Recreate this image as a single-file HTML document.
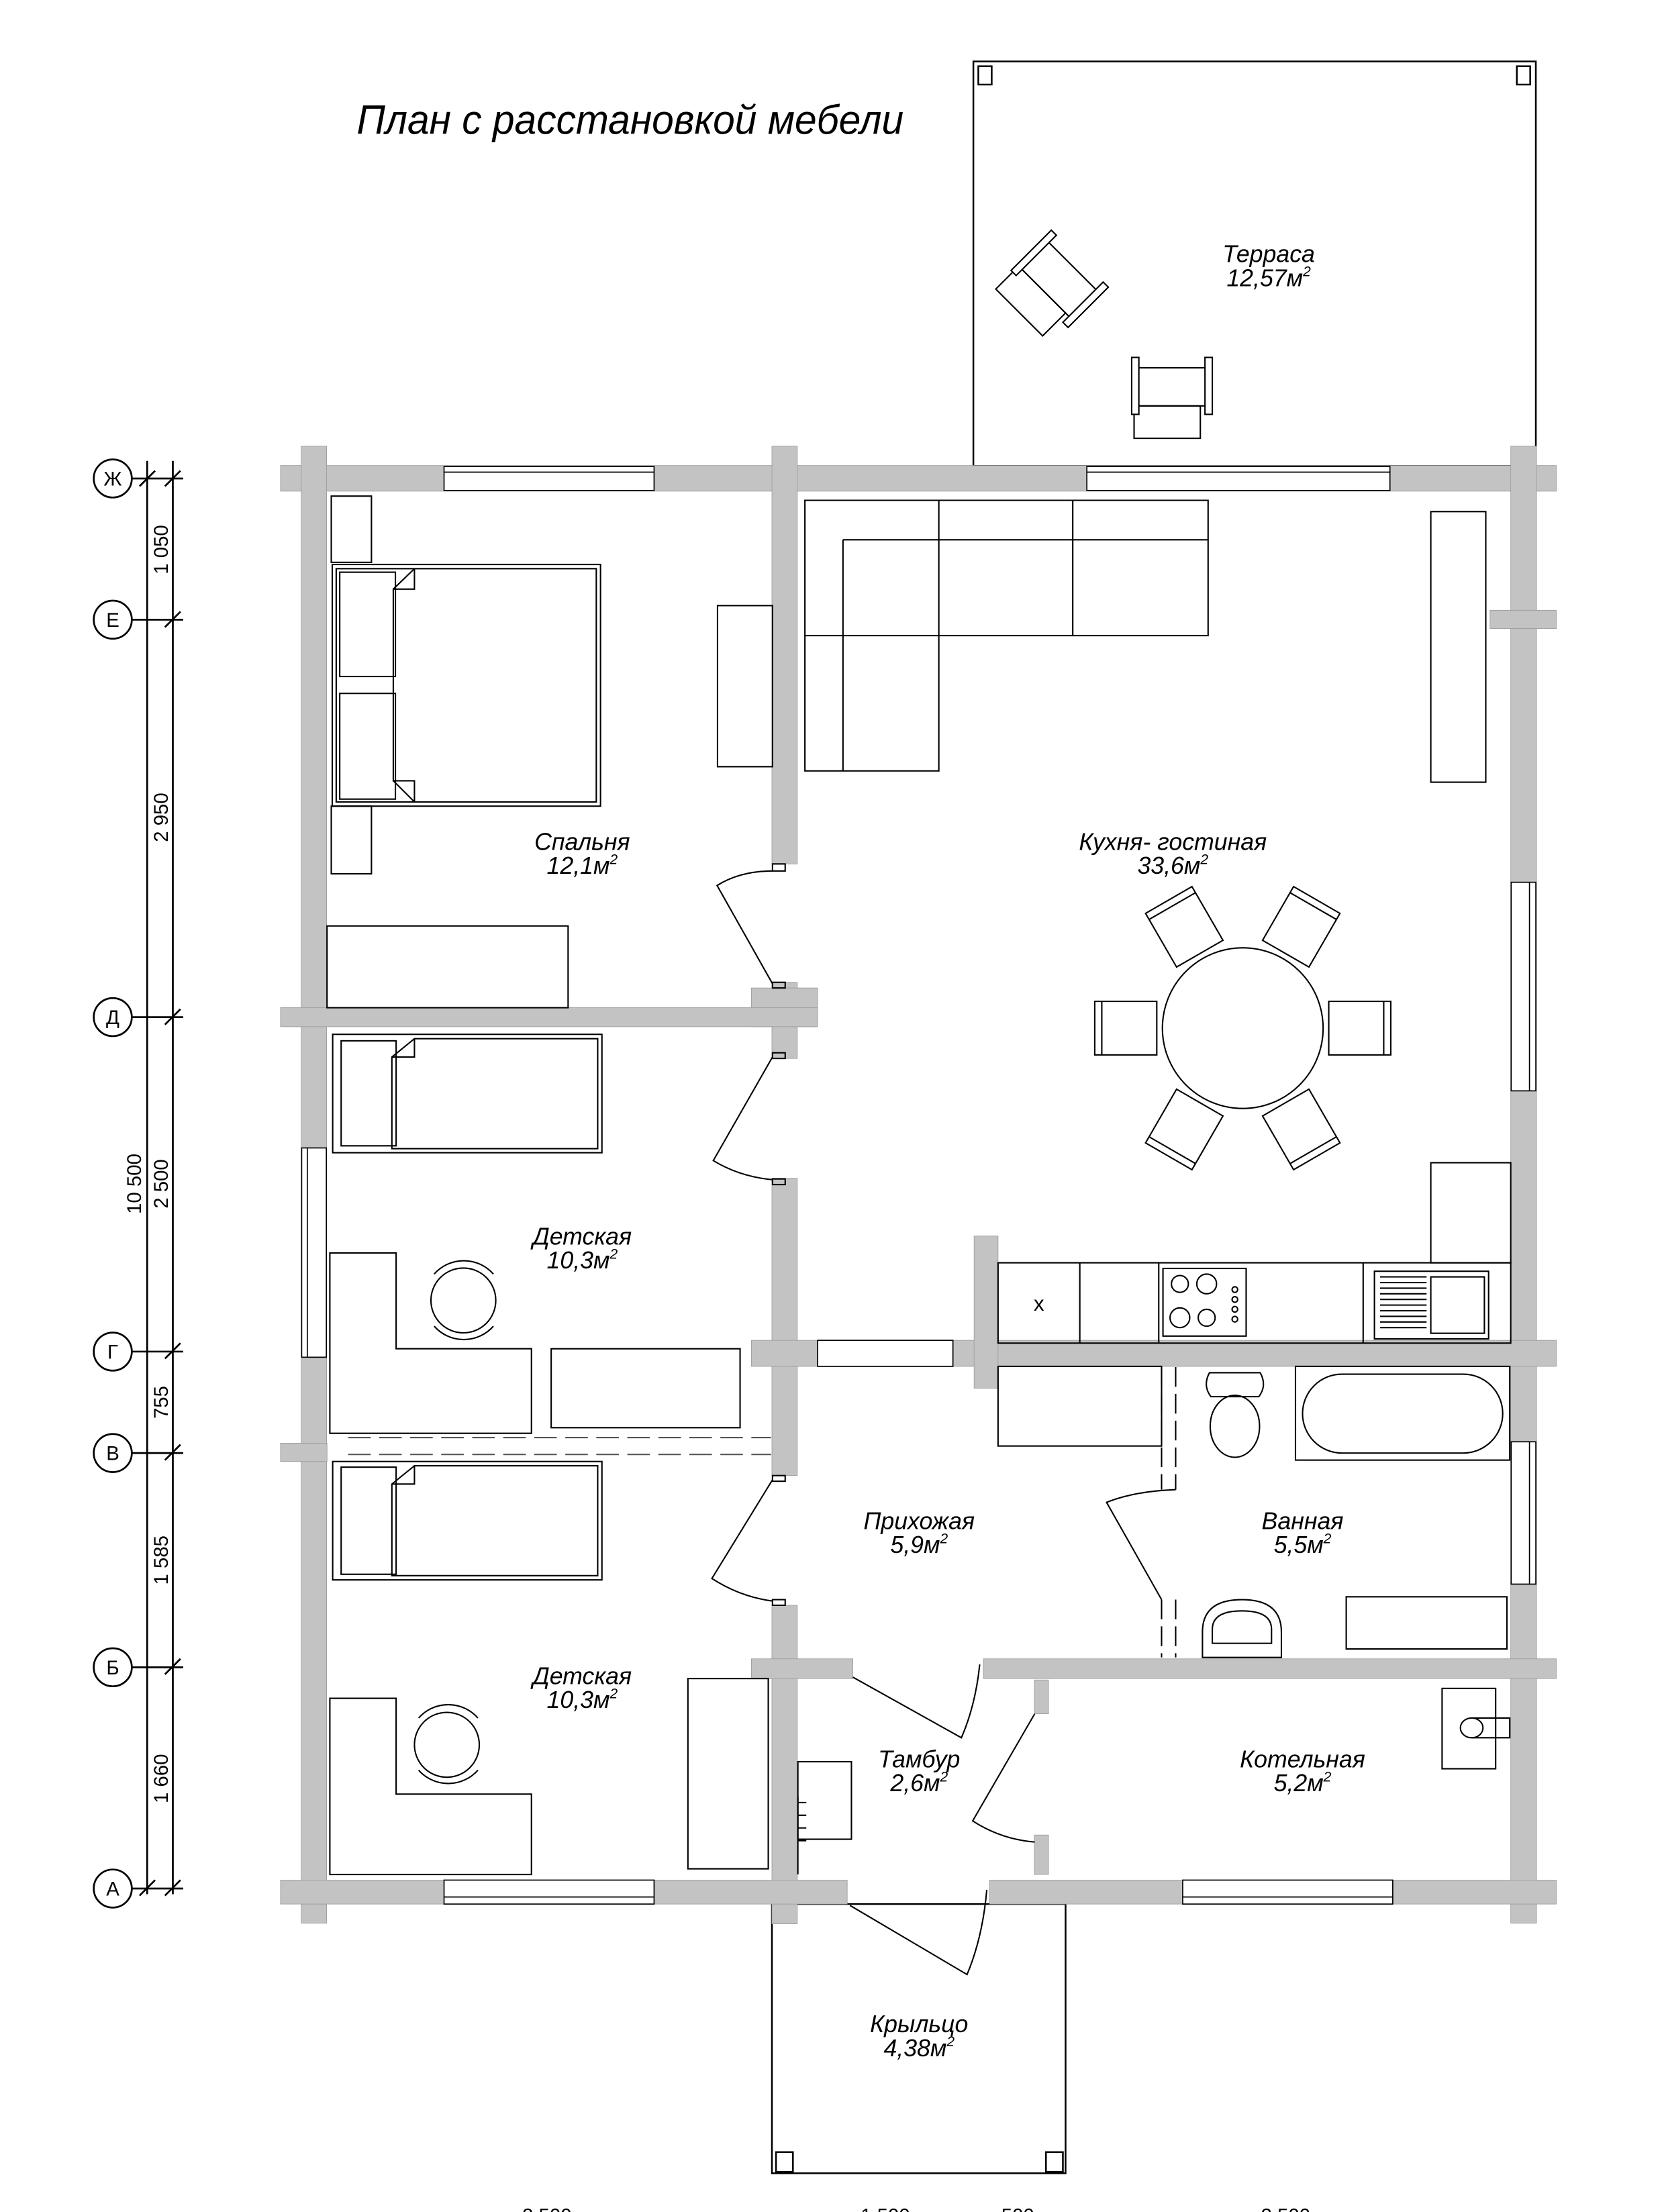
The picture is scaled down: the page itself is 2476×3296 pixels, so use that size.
<!DOCTYPE html>
<html><head><meta charset="utf-8"><style>
html,body{margin:0;padding:0;background:#fff}
svg{display:block}
text{font-family:"Liberation Sans","DejaVu Sans",sans-serif;font-style:italic;fill:#000}
text.n{font-style:normal}
</style></head><body>
<svg width="2476" height="3296" viewBox="0 0 1179 1569.5" preserveAspectRatio="none" xmlns="http://www.w3.org/2000/svg">
<rect x="0" y="0" width="1179" height="1570" fill="#fff"/>
<text x="253" y="95" font-size="29" textLength="388" lengthAdjust="spacingAndGlyphs">План с расстановкой мебели</text>

<!-- terrace -->
<g fill="none" stroke="#000" stroke-width="1.2">
<rect x="690.5" y="43.6" width="399" height="287"/>
<rect x="694" y="47" width="9.5" height="13"/>
<rect x="1076" y="47" width="9.5" height="13"/>
<rect x="547.6" y="1351" width="208.3" height="191"/>
<rect x="550.5" y="1527" width="12" height="14"/>
<rect x="742" y="1527" width="12" height="14"/>
</g>
<defs>
<g id="tch" fill="#fff" stroke="#000" stroke-width="1">
<rect x="-27" y="6" width="47" height="23"/>
<line x1="-24" y1="-21" x2="23" y2="-21"/>
<line x1="-24" y1="6" x2="23" y2="6"/>
<rect x="-28.7" y="-28.4" width="5.1" height="40.4"/>
<rect x="23.3" y="-28.4" width="5.2" height="40.4"/>
</g>
</defs>
<use href="#tch" transform="translate(831.5,282)"/>
<use href="#tch" transform="translate(746,203.7) rotate(45)"/>
<text x="900" y="186" font-size="17" text-anchor="middle">Терраса</text>
<text x="900" y="203" font-size="17" text-anchor="middle">12,57м<tspan font-size="10" dy="-7">2</tspan></text>

<!-- walls -->
<g fill="#c3c3c3" stroke="#9a9a9a" stroke-width="0.4">
<rect x="199" y="330.3" width="905" height="18.2"/>
<rect x="213.7" y="316.6" width="18" height="1048"/>
<rect x="547.6" y="316.6" width="18" height="296.4"/>
<rect x="547.6" y="697" width="18" height="54"/>
<rect x="533" y="701" width="47" height="27.5"/>
<rect x="547.6" y="836" width="18" height="211"/>
<rect x="547.6" y="1139" width="18" height="226"/>
<rect x="1071.7" y="316.6" width="18.3" height="1048"/>
<rect x="199" y="714.9" width="381" height="13.6"/>
<rect x="199" y="1024" width="33" height="13"/>
<rect x="1057" y="433" width="47" height="13"/>
<rect x="533" y="951" width="47" height="18.5"/>
<rect x="676" y="951" width="428" height="18.5"/>
<rect x="691" y="877" width="17" height="108"/>
<rect x="533" y="1177" width="72" height="14"/>
<rect x="697.6" y="1177" width="406.4" height="14"/>
<rect x="199" y="1334" width="402" height="17"/>
<rect x="702" y="1334" width="402" height="17"/>
<rect x="733.8" y="1192" width="10" height="24"/>
<rect x="733.8" y="1302" width="10" height="28"/>
</g>
<!-- windows / openings -->
<g fill="#fff" stroke="#000" stroke-width="0.8">
<rect x="315" y="331" width="149" height="17"/>
<rect x="771" y="331" width="215" height="17"/>
<rect x="315" y="1334" width="149" height="17"/>
<rect x="839" y="1334" width="149" height="17"/>
<rect x="214" y="814.5" width="17.5" height="148.5"/>
<rect x="1072" y="626" width="17.5" height="148"/>
<rect x="1072" y="1023" width="17.5" height="101"/>
<rect x="580" y="951" width="96" height="18.5"/>
</g>
<g stroke="#000" stroke-width="0.8" fill="none">
<line x1="315" y1="335" x2="464" y2="335"/><line x1="771" y1="335" x2="986" y2="335"/>
<line x1="315" y1="1346" x2="464" y2="1346"/><line x1="839" y1="1346" x2="988" y2="1346"/>
<line x1="218" y1="814.5" x2="218" y2="963"/>
<line x1="1085" y1="626" x2="1085" y2="774"/><line x1="1085" y1="1023" x2="1085" y2="1124"/>
</g>

<!-- doors -->
<g fill="none" stroke="#000" stroke-width="1">
<path d="M548,698 L508.7,628.3 Q525,618 548,618"/>
<path d="M548,750 L506,823.5 Q525,835 548,837"/>
<path d="M548,1050 L505,1120 Q525,1133 548,1136"/>
<path d="M834,1057 Q805,1058 785,1066 L824,1135"/>
<path d="M605,1190 L682,1233 Q692,1210 695,1181"/>
<path d="M734,1216 L690,1292 Q710,1305 734,1307"/>
<path d="M603,1352 L686,1401 Q697,1375 700,1341"/>
<rect x="548" y="613" width="9" height="5"/><rect x="548" y="697" width="9" height="4"/>
<rect x="548" y="747" width="9" height="4"/><rect x="548" y="836.5" width="9" height="4"/>
<rect x="548" y="1047" width="9" height="4"/><rect x="548" y="1135" width="9" height="4"/>
<line x1="824" y1="970" x2="824" y2="1057" stroke-dasharray="14,5"/>
<line x1="834" y1="970" x2="834" y2="1057" stroke-dasharray="14,5"/>
<line x1="824" y1="1135" x2="824" y2="1176" stroke-dasharray="14,5"/>
<line x1="834" y1="1135" x2="834" y2="1176" stroke-dasharray="14,5"/>
<line x1="247" y1="1020" x2="547" y2="1020" stroke-dasharray="16,6" stroke="#555"/>
<line x1="247" y1="1032" x2="547" y2="1032" stroke-dasharray="16,6" stroke="#555"/>
</g>

<!-- furniture -->
<g fill="none" stroke="#000" stroke-width="1">
<rect x="235" y="352" width="28.5" height="47"/>
<rect x="235.7" y="400.5" width="190.3" height="171.5"/>
<rect x="238.5" y="403.5" width="184.5" height="165.5"/>
<rect x="241" y="406" width="39.5" height="74"/>
<rect x="241" y="492" width="39.5" height="75"/>
<path d="M294,403.5 L294,418 L279,418 L279,554 L294,554 L294,569"/>
<path d="M279,418 L294,403.5 M279,554 L294,569"/>
<rect x="235" y="572" width="28.5" height="48"/>
<rect x="232" y="657" width="171" height="58"/>
<rect x="509" y="429.7" width="39" height="114.3"/>
<rect x="236" y="733.9" width="191" height="84"/>
<rect x="242" y="738.5" width="39" height="74.5"/>
<path d="M294,737 L278,750 L278,815 L424,815 L424,737 Z"/>
<path d="M278,750 L294,750 L294,737"/>
<path d="M234,889 L281,889 L281,957 L377,957 L377,1017 L234,1017 Z"/>
<ellipse cx="328.7" cy="922.7" rx="23" ry="23"/>
<path d="M308,904 A28,28 0 0 1 350,904 M308,941 A28,28 0 0 0 350,941"/>
<rect x="391" y="957" width="134" height="56"/>
<rect x="236" y="1037" width="191" height="84"/>
<rect x="242" y="1041" width="39" height="76"/>
<path d="M294,1040 L278,1053 L278,1118 L424,1118 L424,1040 Z"/>
<path d="M278,1053 L294,1053 L294,1040"/>
<path d="M234,1205 L281,1205 L281,1273 L377,1273 L377,1330 L234,1330 Z"/>
<ellipse cx="317" cy="1238" rx="23" ry="23"/>
<path d="M297,1219 A28,28 0 0 1 339,1219 M297,1256 A28,28 0 0 0 339,1256"/>
<rect x="488" y="1191" width="57" height="135"/>
<path d="M571,355 L857,355 L857,451 L666,451 L666,547 L571,547 Z"/>
<path d="M598,383 L857,383 M598,383 L598,547 M666,355 L666,451 M761,355 L761,451 M571,451 L666,451"/>
<rect x="1015" y="363" width="39" height="192"/>
<circle cx="881.6" cy="729.5" r="57"/>
<rect x="1015" y="825" width="56.7" height="71"/>
<rect x="708" y="896" width="363.7" height="57"/>
<line x1="766" y1="896" x2="766" y2="953"/>
<line x1="822" y1="896" x2="822" y2="953"/>
<line x1="967" y1="896" x2="967" y2="953"/>
<rect x="825" y="900" width="59" height="48"/>
<circle cx="837" cy="911" r="6"/><circle cx="856" cy="911" r="7"/>
<circle cx="837" cy="935" r="7"/><circle cx="856" cy="935" r="6"/>
<circle cx="876" cy="915" r="2"/><circle cx="876" cy="922" r="2"/><circle cx="876" cy="929" r="2"/><circle cx="876" cy="936" r="2"/>
<rect x="975" y="902" width="81" height="48"/>
<rect x="1015" y="906" width="38" height="40"/>
<path d="M979,906h33M979,910h33M979,914h33M979,918h33M979,922h33M979,926h33M979,930h33M979,934h33M979,938h33M979,942h33"/>
<rect x="708" y="969.5" width="116" height="56.5"/>
<path d="M858,974 L894,974 Q899,983 893,991 L859,991 Q853,983 858,974 Z"/>
<ellipse cx="876" cy="1012" rx="17.5" ry="22"/>
<rect x="919" y="969.5" width="152" height="66.5"/>
<rect x="924" y="975" width="142" height="56" rx="28" ry="28"/>
<path d="M853,1176 L853,1158 Q853,1135 881,1135 Q909,1135 909,1158 L909,1176 Z"/>
<path d="M860,1166 L860,1156 Q860,1143 881,1143 Q902,1143 902,1156 L902,1166 Z"/>
<rect x="955" y="1133" width="114" height="37"/>
<rect x="1023" y="1198" width="38" height="57"/>
<ellipse cx="1044" cy="1226" rx="8" ry="7"/>
<path d="M1044,1219 L1071,1219 L1071,1233 L1044,1233"/>
<rect x="566" y="1250" width="38" height="55"/>
<path d="M566,1279h6M566,1288h6M566,1297h6M566,1306h6"/>
<line x1="566" y1="1275" x2="566" y2="1330"/>
</g>
<text class="n" x="737" y="930" font-size="15" text-anchor="middle">x</text>

<defs>
<g id="dch" fill="#fff" stroke="#000" stroke-width="1">
<rect x="61" y="-19" width="44" height="38"/>
<line x1="100" y1="-19" x2="100" y2="19"/>
</g>
</defs>
<g transform="translate(881.6,729.5)">
<use href="#dch"/>
<use href="#dch" transform="rotate(60)"/>
<use href="#dch" transform="rotate(120)"/>
<use href="#dch" transform="rotate(180)"/>
<use href="#dch" transform="rotate(240)"/>
<use href="#dch" transform="rotate(300)"/>
</g>

<g font-size="17" text-anchor="middle">
<text x="413" y="603">Спальня</text><text x="413" y="620">12,1м<tspan font-size="10" dy="-7">2</tspan></text>
<text x="832" y="603">Кухня- гостиная</text><text x="832" y="620">33,6м<tspan font-size="10" dy="-7">2</tspan></text>
<text x="413" y="883">Детская</text><text x="413" y="900">10,3м<tspan font-size="10" dy="-7">2</tspan></text>
<text x="413" y="1195">Детская</text><text x="413" y="1212">10,3м<tspan font-size="10" dy="-7">2</tspan></text>
<text x="652" y="1085">Прихожая</text><text x="652" y="1102">5,9м<tspan font-size="10" dy="-7">2</tspan></text>
<text x="924" y="1085">Ванная</text><text x="924" y="1102">5,5м<tspan font-size="10" dy="-7">2</tspan></text>
<text x="652" y="1254">Тамбур</text><text x="652" y="1271">2,6м<tspan font-size="10" dy="-7">2</tspan></text>
<text x="924" y="1254">Котельная</text><text x="924" y="1271">5,2м<tspan font-size="10" dy="-7">2</tspan></text>
<text x="652" y="1442">Крыльцо</text><text x="652" y="1459">4,38м<tspan font-size="10" dy="-7">2</tspan></text>
</g>

<g fill="#fff" stroke="#000" stroke-width="1.3">
<line x1="104.4" y1="327" x2="104.4" y2="1344" />
<line x1="122.6" y1="327" x2="122.6" y2="1344" />
</g>
<g stroke="#000" stroke-width="1.3" fill="#fff">
<line x1="94" y1="339.5" x2="130" y2="339.5"/><line x1="94" y1="439.7" x2="130" y2="439.7"/>
<line x1="94" y1="721.7" x2="130" y2="721.7"/><line x1="94" y1="959" x2="130" y2="959"/>
<line x1="94" y1="1031" x2="130" y2="1031"/><line x1="94" y1="1183" x2="130" y2="1183"/>
<line x1="94" y1="1340" x2="130" y2="1340"/>
<path d="M117,345 L128,334 M99,345 L110,334 M117,445 L128,434 M117,727 L128,716 M117,964 L128,953 M117,1036 L128,1025 M117,1188 L128,1177 M117,1345 L128,1334 M99,1345 L110,1334"/>
<circle cx="80" cy="339.5" r="13.5"/><circle cx="80" cy="439.7" r="13.5"/>
<circle cx="80" cy="721.7" r="13.5"/><circle cx="80" cy="959" r="13.5"/>
<circle cx="80" cy="1031" r="13.5"/><circle cx="80" cy="1183" r="13.5"/>
<circle cx="80" cy="1340" r="13.5"/>
</g>
<g font-size="14" text-anchor="middle">
<text class="n" x="80" y="344.5">Ж</text><text class="n" x="80" y="444.7">Е</text><text class="n" x="80" y="726.7">Д</text>
<text class="n" x="80" y="964">Г</text><text class="n" x="80" y="1036">В</text><text class="n" x="80" y="1188">Б</text><text class="n" x="80" y="1345">А</text>
</g>
<g font-size="14" text-anchor="middle">
<text class="n" transform="translate(119,390) rotate(-90)">1 050</text>
<text class="n" transform="translate(119,580) rotate(-90)">2 950</text>
<text class="n" transform="translate(119,840) rotate(-90)">2 500</text>
<text class="n" transform="translate(119,995) rotate(-90)">755</text>
<text class="n" transform="translate(119,1107) rotate(-90)">1 585</text>
<text class="n" transform="translate(119,1262) rotate(-90)">1 660</text>
<text class="n" transform="translate(100,840) rotate(-90)">10 500</text>
<text class="n" x="388" y="1577">2 500</text>
<text class="n" x="628" y="1577">1 500</text>
<text class="n" x="722" y="1577">500</text>
<text class="n" x="912" y="1577">2 500</text>
</g>
</svg>
</body></html>
